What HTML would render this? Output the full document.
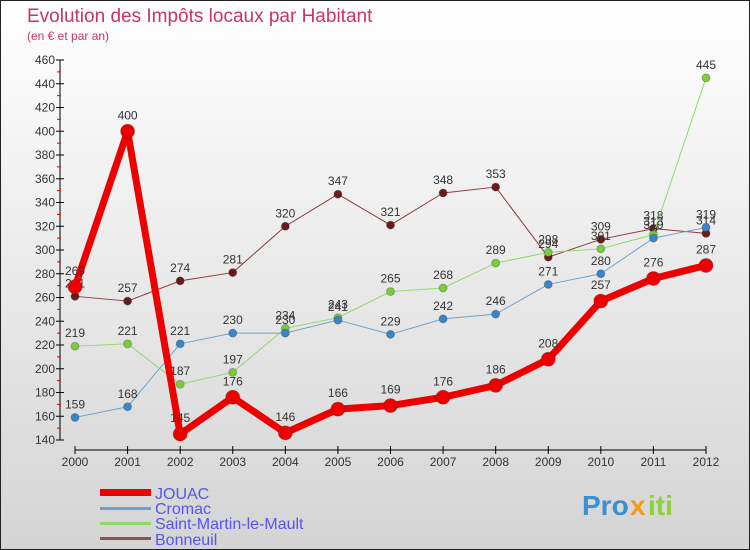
<!DOCTYPE html>
<html><head><meta charset="utf-8"><style>
body{margin:0;width:750px;height:550px;overflow:hidden;font-family:"Liberation Sans",sans-serif}
svg{display:block}
</style></head><body>
<svg id="c" width="750" height="550" xmlns="http://www.w3.org/2000/svg">
<defs><linearGradient id="bg" x1="0" y1="0" x2="0" y2="1"><stop offset="0" stop-color="#ffffff"/><stop offset="1" stop-color="#d4d4d4"/></linearGradient></defs>
<rect x="0.5" y="0.5" width="749" height="549" fill="url(#bg)" stroke="#222"/>
<text x="27" y="22" font-size="19" fill="#c8336a">Evolution des Impôts locaux par Habitant</text>
<text x="27" y="40" font-size="12" fill="#c8336a">(en € et par an)</text>
<g id="axes"></g><g id="series"></g>
<g>
<rect x="100" y="489" width="51" height="7" fill="#e00"/>
<text x="155" y="499" font-size="16" fill="#5555ee">JOUAC</text>
<rect x="100" y="507" width="51" height="3" fill="#6aa3cc"/>
<text x="155" y="514" font-size="16" fill="#5555ee">Cromac</text>
<rect x="100" y="522" width="51" height="3" fill="#8fd870"/>
<text x="155" y="529" font-size="16" fill="#5555ee">Saint-Martin-le-Mault</text>
<rect x="100" y="537" width="51" height="3" fill="#8a5555"/>
<text x="155" y="545" font-size="16" fill="#5555ee">Bonneuil</text>
</g>
<g font-size="28" font-weight="bold">
<text x="582" y="515" fill="#3a8fd0">Pro</text><text x="630" y="515" fill="#f39a1a">x</text><text x="648" y="515" fill="#8fcf3a">iti</text>
</g>
</svg>
<script>
const years=["2000","2001","2002","2003","2004","2005","2006","2007","2008","2009","2010","2011","2012"];
const yTicks=[140,160,180,200,220,240,260,280,300,320,340,360,380,400,420,440,460];
const jouac=[269,400,145,176,146,166,169,176,186,208,257,276,287];
const cromac=[159,168,221,230,230,241,229,242,246,271,280,310,319];
const saintMartin=[219,221,187,197,234,243,265,268,289,298,301,313,445];
const bonneuil=[261,257,274,281,320,347,321,348,353,294,309,318,314];
const NS="http://www.w3.org/2000/svg";
const x=i=>75+i*(706-75)/12;
const y=v=>440-(v-140)*380/320;
function mk(t,a,p){const e=document.createElementNS(NS,t);for(const k in a)e.setAttribute(k,a[k]);p.appendChild(e);return e;}
const ax=document.getElementById('axes');
let l=mk('line',{x1:60,y1:60,x2:60,y2:440,stroke:'#000'},ax);


l=mk('line',{x1:75,y1:450,x2:706,y2:450,stroke:'#000'},ax);


yTicks.forEach((v,i)=>{
 mk('line',{x1:56,y1:y(v),x2:64,y2:y(v),stroke:'#000'},ax);
 if(i<yTicks.length-1)mk('line',{x1:57,y1:y(v+10),x2:61,y2:y(v+10),stroke:'#e00'},ax);
 const t=mk('text',{x:55,y:y(v)+4,'font-size':12,fill:'#333','text-anchor':'end'},ax);t.textContent=v;
 
 
});
years.forEach((yr,i)=>{
 mk('line',{x1:x(i),y1:446,x2:x(i),y2:454,stroke:'#000'},ax);
 const t=mk('text',{x:x(i),y:466,'font-size':12,fill:'#333','text-anchor':'middle'},ax);t.textContent=yr;
 
 
});
const sg=document.getElementById('series');
function series(vals,name,color,w,r,dot){
 const g=mk('g',{},sg);
 
 
 const p=mk('polyline',{points:vals.map((v,i)=>x(i)+','+y(v)).join(' '),fill:'none',stroke:color,'stroke-width':w,'stroke-linejoin':'round'},g);
 
 
 vals.forEach((v,i)=>{
  const c=mk('circle',{cx:x(i),cy:y(v),r:r,fill:dot,stroke:'#333','stroke-opacity':0.3},g);
  
  
  const t=mk('text',{x:x(i),y:y(v)-(r+5),'font-size':12,fill:'#333','text-anchor':'middle'},g);t.textContent=v;
  
  
 });
}
series(bonneuil,'bonneuil','#8a3a3a',1,4,'#6b1a1a');
series(saintMartin,'saint-martin','#8fd870',1,4,'#7ccc3a');
series(cromac,'cromac','#6aa3cc',1,4,'#3a85c8');
series(jouac,'jouac','#ee0000',7,7,'#ee0000');
</script>
</body></html>
